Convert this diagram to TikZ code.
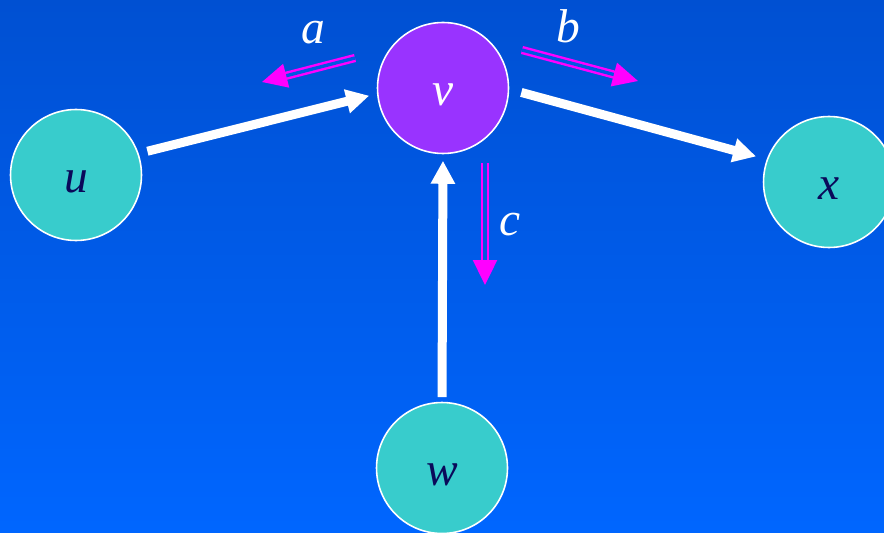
\documentclass[tikz,border=0pt]{standalone}
\usepackage{fontspec}
\setmainfont{Liberation Serif}
\usetikzlibrary{arrows.meta,positioning,calc}
\definecolor{bgtop}{RGB}{0,80,210}
\definecolor{bgbot}{RGB}{0,102,255}
\definecolor{bgmid}{RGB}{0,88,225}
\definecolor{nodeteal}{RGB}{56,204,204}
\definecolor{nodepurple}{RGB}{153,51,255}
\definecolor{labelnavy}{RGB}{10,10,90}
\definecolor{flowmag}{RGB}{255,0,255}
\tikzset{
    vtx/.style={circle, draw=white, fill=#1, line width=0.9pt, minimum size=2.62cm,
                inner sep=0pt, text=labelnavy, text height=0.7cm, text depth=0pt,
                font=\fontsize{27}{27}\selectfont\itshape},
    edg/.style={-{Triangle[length=0.46cm,width=0.46cm]}, white, line width=0.18cm},
    flow/.style={-{Triangle[length=0.5cm,width=0.48cm]}, flowmag, line width=1.4pt,
                 double=bgmid, double distance=1.9pt},
    lbl/.style={white, inner sep=0pt, font=\fontsize{27}{27}\selectfont\itshape},
}

\begin{document}
\begin{tikzpicture}[x=0.02cm, y=-0.02cm]
    \shade[top color=bgtop, bottom color=bgbot] (0,0) rectangle (884,533);
    \useasboundingbox (0,0) rectangle (884,533);

    \node[vtx=nodeteal] (u) at (76,175) {u};
    \node[vtx=nodepurple, text=white] (v) at (443,88) {v};
    \node[vtx=nodeteal] (x) at (829,182) {x};
    \node[vtx=nodeteal] (w) at (442,468) {w};

    \draw[edg, shorten <=0.18cm, shorten >=0.16cm] (u.19) -- (v.185);
    \draw[edg, shorten <=0.25cm, shorten >=0.22cm] (v.-1) -- (x.160);
    \draw[edg, shorten <=0.09cm, shorten >=0.13cm] (w.north) -- (v.south);

    % flows through v
    \coordinate (a0) at (355,58);
    \coordinate (a1) at (262,82);
    \coordinate (b0) at (522,50);
    \coordinate (b1) at (638,81);
    \coordinate (c0) at (485,163);
    \coordinate (c1) at (485,285);
    \draw[flow] (a0) -- (a1);
    \draw[flow] (b0) -- (b1);
    \draw[flow] (c0) -- (c1);

    \node[lbl] (la) at (313,33) {a};
    \node[lbl] (lb) at (568,26) {b};
    \node[lbl] (lc) at (510,225) {c};
\end{tikzpicture}
\end{document}
